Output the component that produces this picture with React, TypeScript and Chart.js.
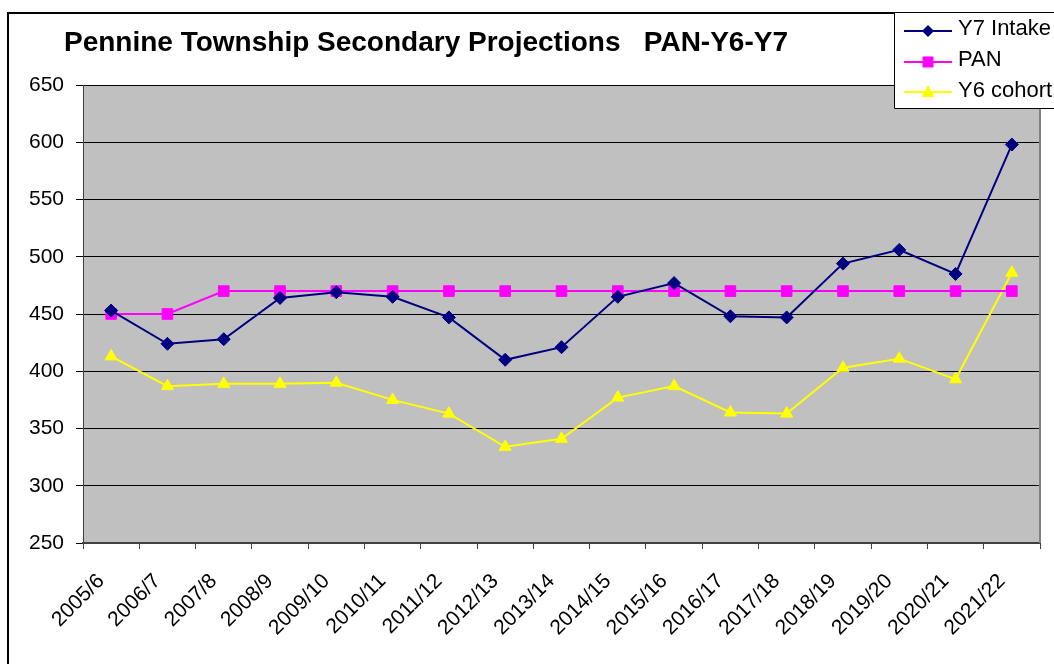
import React, { useEffect, useRef } from "react";
import { Chart, registerables } from "chart.js";

Chart.register(...registerables);

const categories = [
  "2005/6", "2006/7", "2007/8", "2008/9", "2009/10", "2010/11", "2011/12", "2012/13",
  "2013/14", "2014/15", "2015/16", "2016/17", "2017/18", "2018/19", "2019/20", "2020/21", "2021/22",
];
const y7Intake = [453, 424, 428, 464, 469, 465, 447, 410, 421, 465, 477, 448, 447, 494, 506, 485, 598];
const pan = [450, 450, 470, 470, 470, 470, 470, 470, 470, 470, 470, 470, 470, 470, 470, 470, 470];
const y6Cohort = [413, 387, 389, 389, 390, 375, 363, 334, 341, 377, 387, 364, 363, 403, 411, 393, 486];
const yTicks = [250, 300, 350, 400, 450, 500, 550, 600, 650];

const titleText = "Pennine Township Secondary Projections   PAN-Y6-Y7";
const seriesNames = ["Y7 Intake", "PAN", "Y6 cohort"];
const FONT = "'Liberation Sans', Arial, sans-serif";

const decorPlugin = {
  id: "decor",
  beforeDraw(chart: any) {
    const { ctx, chartArea } = chart;
    ctx.save();
    ctx.fillStyle = "#ffffff";
    ctx.fillRect(0, 0, chart.width, chart.height);
    ctx.fillStyle = "#C0C0C0";
    ctx.fillRect(chartArea.left, chartArea.top, chartArea.right - chartArea.left, chartArea.bottom - chartArea.top);
    ctx.restore();
  },
  afterDraw(chart: any) {
    const { ctx, chartArea } = chart;
    ctx.save();
    // right border of plot area
    ctx.fillStyle = "#808080";
    ctx.fillRect(chartArea.right - 1, chartArea.top, 2, chartArea.bottom - chartArea.top);
    // outer frame
    ctx.fillStyle = "#000000";
    ctx.fillRect(7, 12, 2, chart.height);
    ctx.fillRect(7, 12, chart.width, 2);
    // title
    ctx.font = "bold 28px " + FONT;
    ctx.fillStyle = "#000";
    ctx.textBaseline = "alphabetic";
    ctx.textAlign = "left";
    ctx.fillText(titleText, 64, 51);
    // legend box
    ctx.fillStyle = "#ffffff";
    ctx.fillRect(894, 13, chart.width, 96);
    ctx.strokeStyle = "#000";
    ctx.lineWidth = 1;
    ctx.beginPath();
    ctx.moveTo(894.5, 13);
    ctx.lineTo(894.5, 108.5);
    ctx.lineTo(chart.width, 108.5);
    ctx.stroke();
    const rows = [31, 62, 92];
    const baselines = [35, 66, 97];
    chart.data.datasets.forEach((ds: any, i: number) => {
      const y = rows[i];
      ctx.strokeStyle = ds.borderColor;
      ctx.lineWidth = 2;
      ctx.beginPath();
      ctx.moveTo(904, y);
      ctx.lineTo(952, y);
      ctx.stroke();
      ctx.fillStyle = ds.pointBackgroundColor;
      ctx.beginPath();
      const cx = 928;
      if (ds.pointStyle === "rectRot") {
        ctx.moveTo(cx, y - 6);
        ctx.lineTo(cx + 6, y);
        ctx.lineTo(cx, y + 6);
        ctx.lineTo(cx - 6, y);
      } else if (ds.pointStyle === "rect") {
        ctx.rect(cx - 5.5, y - 5.5, 11, 11);
      } else {
        ctx.moveTo(cx, y - 7);
        ctx.lineTo(cx + 6.5, y + 5);
        ctx.lineTo(cx - 6.5, y + 5);
      }
      ctx.closePath();
      ctx.fill();
      ctx.font = "22px " + FONT;
      ctx.fillStyle = "#000";
      ctx.fillText(seriesNames[i], 958, baselines[i]);
    });
    ctx.restore();
  },
};

export default function App() {
  const ref = useRef<HTMLCanvasElement | null>(null);
  useEffect(() => {
    if (!ref.current) return;
    const chart = new Chart(ref.current, {
      type: "line",
      data: {
        labels: categories,
        datasets: [
          {
            label: seriesNames[0],
            data: y7Intake,
            borderColor: "#000080",
            backgroundColor: "#000080",
            pointBackgroundColor: "#000080",
            pointBorderColor: "#000080",
            pointStyle: "rectRot",
            pointRadius: 6.5,
            pointBorderWidth: 1,
            borderWidth: 2,
            tension: 0,
          },
          {
            label: seriesNames[1],
            data: pan,
            borderColor: "#FF00FF",
            backgroundColor: "#FF00FF",
            pointBackgroundColor: "#FF00FF",
            pointBorderColor: "#FF00FF",
            pointStyle: "rect",
            pointRadius: 7.5,
            pointBorderWidth: 1,
            borderWidth: 2,
            tension: 0,
          },
          {
            label: seriesNames[2],
            data: y6Cohort,
            borderColor: "#FFFF00",
            backgroundColor: "#FFFF00",
            pointBackgroundColor: "#FFFF00",
            pointBorderColor: "#FFFF00",
            pointStyle: "triangle",
            pointRadius: 7,
            pointBorderWidth: 1,
            borderWidth: 2,
            tension: 0,
          },
        ],
      },
      options: {
        responsive: false,
        animation: false,
        devicePixelRatio: 1,
        layout: { padding: { top: 85, right: 14, left: 0, bottom: 0 } },
        plugins: {
          legend: { display: false },
          title: { display: false },
          tooltip: { enabled: false },
        },
        scales: {
          x: {
            offset: true,
            grid: {
              offset: true,
              drawOnChartArea: false,
              drawTicks: true,
              tickLength: 6,
              color: "#404040",
            },
            border: { color: "#404040", width: 2 },
            ticks: {
              autoSkip: false,
              maxRotation: 45,
              minRotation: 45,
              color: "#000",
              padding: 20,
              labelOffset: -10,
              font: { family: FONT, size: 21 },
            },
            afterFit(scale: any) {
              scale.height = 121;
            },
          },
          y: {
            min: yTicks[0],
            max: yTicks[yTicks.length - 1],
            afterBuildTicks(scale: any) {
              scale.ticks = yTicks.map((v) => ({ value: v }));
            },
            grid: {
              color: "#000",
              lineWidth: 1,
              tickLength: 7,
              drawTicks: true,
            },
            border: { color: "#404040", width: 1 },
            ticks: {
              color: "#000",
              padding: 12,
              font: { family: FONT, size: 21 },
            },
            afterFit(scale: any) {
              scale.width = 83;
            },
          },
        },
      },
      plugins: [decorPlugin],
    });
    return () => chart.destroy();
  }, []);
  return (
    <div style={{ position: "absolute", left: 0, top: 0, width: 1054, height: 664, background: "#fff" }}>
      <canvas ref={ref} width={1054} height={664} style={{ display: "block", width: 1054, height: 664 }} />
    </div>
  );
}
